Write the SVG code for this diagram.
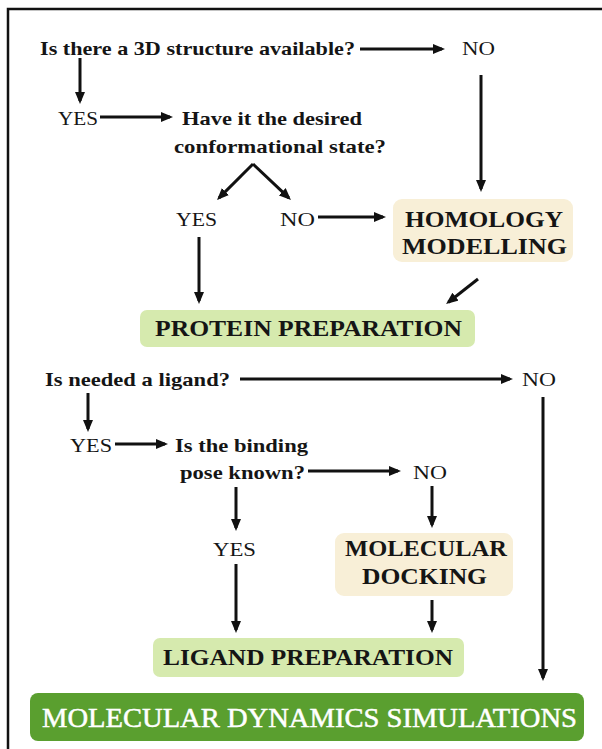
<svg xmlns="http://www.w3.org/2000/svg" width="602" height="749" viewBox="0 0 602 749">
<style>
.q{font-family:'Liberation Serif','Times New Roman',Times,serif;font-weight:bold;font-size:19px;fill:#151515}
.a{font-family:'Liberation Serif','Times New Roman',Times,serif;font-size:19px;fill:#151515}
.b{font-family:'Liberation Serif','Times New Roman',Times,serif;font-weight:bold;font-size:24px;fill:#151515}
.m{font-family:'Liberation Serif','Times New Roman',Times,serif;font-size:28px;fill:#ffffff;stroke:#ffffff;stroke-width:0.5}
.cream{fill:#f8efd7}
.lg{fill:#d6eaae}
.dg{fill:#5a9f2f}
.c line{stroke:#111;stroke-width:3;marker-end:url(#ah)}
</style>
<defs>
<marker id="ah" markerUnits="userSpaceOnUse" viewBox="0 0 12 10" refX="9" refY="5" markerWidth="12" markerHeight="10" orient="auto">
<path d="M0,0 L12,5 L0,10 z" fill="#111"/>
</marker>
</defs>
<rect width="602" height="749" fill="#ffffff"/>
<path d="M8,749 V9 H602" fill="none" stroke="#111" stroke-width="2.5"/>

<g id="q1"><text class="q" x="40" y="55" textLength="315" lengthAdjust="spacingAndGlyphs">Is there a 3D structure available?</text></g>
<g id="no1"><text class="a" x="462" y="55" textLength="33" lengthAdjust="spacingAndGlyphs">NO</text></g>
<g id="yes1"><text class="a" x="58" y="125" textLength="40" lengthAdjust="spacingAndGlyphs">YES</text></g>
<g id="q2"><text class="q" x="182" y="125" textLength="180" lengthAdjust="spacingAndGlyphs">Have it the desired</text>
<text class="q" x="174" y="153" textLength="212" lengthAdjust="spacingAndGlyphs">conformational state?</text></g>
<g id="yes2"><text class="a" x="176" y="226" textLength="41" lengthAdjust="spacingAndGlyphs">YES</text></g>
<g id="no2"><text class="a" x="280" y="226" textLength="35" lengthAdjust="spacingAndGlyphs">NO</text></g>
<g id="homology"><rect class="cream" x="393" y="199" width="180" height="63" rx="9"/>
<text class="b" x="405" y="227" textLength="158" lengthAdjust="spacingAndGlyphs">HOMOLOGY</text>
<text class="b" x="402" y="254" textLength="165" lengthAdjust="spacingAndGlyphs">MODELLING</text></g>
<g id="protein"><rect class="lg" x="140" y="310" width="335" height="37" rx="7"/>
<text class="b" x="155" y="336" textLength="307" lengthAdjust="spacingAndGlyphs">PROTEIN PREPARATION</text></g>

<g id="q3"><text class="q" x="45" y="386" textLength="185" lengthAdjust="spacingAndGlyphs">Is needed a ligand?</text></g>
<g id="no3"><text class="a" x="522" y="386" textLength="34" lengthAdjust="spacingAndGlyphs">NO</text></g>
<g id="yes3"><text class="a" x="70" y="452" textLength="42" lengthAdjust="spacingAndGlyphs">YES</text></g>
<g id="q4"><text class="q" x="175" y="452" textLength="133" lengthAdjust="spacingAndGlyphs">Is the binding</text>
<text class="q" x="180" y="479" textLength="125" lengthAdjust="spacingAndGlyphs">pose known?</text></g>
<g id="no4"><text class="a" x="413" y="479" textLength="34" lengthAdjust="spacingAndGlyphs">NO</text></g>
<g id="yes4"><text class="a" x="213" y="556" textLength="43" lengthAdjust="spacingAndGlyphs">YES</text></g>
<g id="docking"><rect class="cream" x="335" y="533" width="178" height="63" rx="9"/>
<text class="b" x="345" y="556" textLength="162" lengthAdjust="spacingAndGlyphs">MOLECULAR</text>
<text class="b" x="362" y="584" textLength="125" lengthAdjust="spacingAndGlyphs">DOCKING</text></g>
<g id="ligand"><rect class="lg" x="153" y="638" width="311" height="39" rx="7"/>
<text class="b" x="163" y="665" textLength="290" lengthAdjust="spacingAndGlyphs">LIGAND PREPARATION</text></g>
<g id="md"><rect class="dg" x="30" y="693" width="554" height="48" rx="8"/>
<text class="m" x="42" y="727" textLength="535" lengthAdjust="spacingAndGlyphs">MOLECULAR DYNAMICS SIMULATIONS</text></g>

<g id="connectors" class="c">
<line x1="360" y1="49" x2="442" y2="49"/>
<line x1="80" y1="58" x2="80" y2="101"/>
<line x1="100" y1="117" x2="170" y2="117"/>
<line x1="253" y1="164" x2="219.1" y2="197.9"/>
<line x1="253" y1="164" x2="288.8" y2="197.9"/>
<line x1="318" y1="217" x2="383" y2="217"/>
<line x1="481" y1="75" x2="481" y2="189"/>
<line x1="199" y1="237" x2="199" y2="301"/>
<line x1="478" y1="279" x2="448.4" y2="302.2"/>
<line x1="240" y1="379" x2="510" y2="379"/>
<line x1="88" y1="393" x2="88" y2="429"/>
<line x1="115" y1="444" x2="165" y2="444"/>
<line x1="308" y1="471" x2="398" y2="471"/>
<line x1="236" y1="487" x2="236" y2="528"/>
<line x1="432" y1="486" x2="432" y2="525"/>
<line x1="236" y1="564" x2="236" y2="630"/>
<line x1="432" y1="600" x2="432" y2="630"/>
<line x1="543" y1="397" x2="543" y2="678"/>
</g>
</svg>
